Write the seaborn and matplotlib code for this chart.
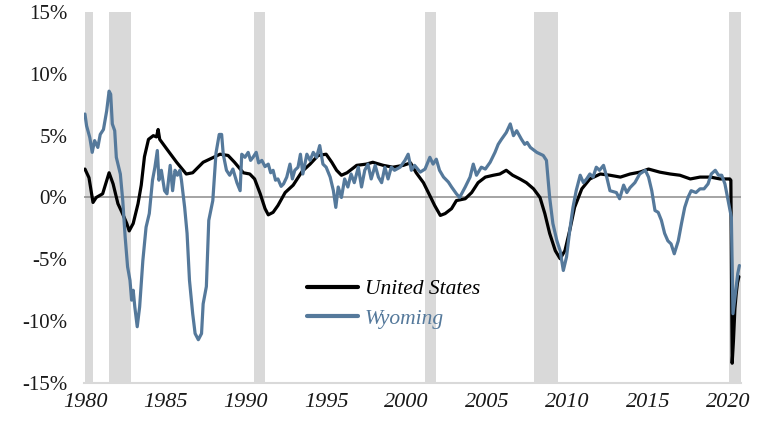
import matplotlib
matplotlib.use("Agg")
import matplotlib.pyplot as plt
from matplotlib.font_manager import FontProperties
import seaborn as sns
import pandas as pd

# ---------------- data ----------------
us_year = [1980.0, 1980.25, 1980.5, 1980.7, 1981.1, 1981.5, 1981.75, 1982.05, 1982.3, 1982.6,
           1982.75, 1983.0, 1983.3, 1983.5, 1983.7, 1983.95, 1984.25, 1984.45, 1984.55, 1984.65,
           1985.1, 1985.7, 1986.3, 1986.7, 1987.35, 1988.0, 1988.4, 1988.9, 1989.3, 1989.85,
           1990.25, 1990.55, 1990.9, 1991.2, 1991.4, 1991.7, 1992.0, 1992.45, 1992.95, 1993.5,
           1994.0, 1994.5, 1995.0, 1995.35, 1995.65, 1995.95, 1996.3, 1996.9, 1997.5, 1997.9,
           1998.55, 1999.15, 1999.8, 2000.25, 2000.6, 2001.05, 2001.45, 2001.75, 2002.1, 2002.4,
           2002.8, 2003.1, 2003.65, 2004.05, 2004.45, 2004.9, 2005.4, 2005.8, 2006.2, 2006.6,
           2007.05, 2007.45, 2007.9, 2008.3, 2008.6, 2008.9, 2009.25, 2009.55, 2009.85, 2010.15,
           2010.45, 2010.9, 2011.4, 2012.05, 2012.65, 2013.3, 2013.9, 2014.5, 2015.05, 2015.75,
           2016.4, 2017.0, 2017.65, 2018.25, 2018.9, 2019.5, 2020.1, 2020.17, 2020.25, 2020.33,
           2020.42, 2020.5, 2020.58, 2020.67]
us_val = [2.3, 1.6, -0.4, 0.0, 0.3, 2.0, 1.1, -0.5, -1.2, -2.1,
          -2.7, -2.1, -0.5, 1.0, 3.3, 4.7, 5.0, 4.9, 5.5, 4.7,
          3.9, 2.85, 1.9, 2.0, 2.85, 3.25, 3.5, 3.4, 2.85, 2.0,
          1.9, 1.5, 0.3, -0.9, -1.4, -1.2, -0.65, 0.4, 1.0, 2.1,
          2.7, 3.4, 3.5, 2.85, 2.2, 1.8, 2.0, 2.6, 2.7, 2.85,
          2.6, 2.45, 2.6, 2.8, 2.0, 1.2, 0.15, -0.65, -1.45, -1.3,
          -0.9, -0.25, -0.1, 0.4, 1.2, 1.65, 1.8, 1.9, 2.2, 1.8,
          1.5, 1.2, 0.7, 0.0, -1.3, -2.9, -4.3, -4.95, -4.3, -2.65,
          -0.8, 0.7, 1.5, 1.9, 1.8, 1.65, 1.9, 2.05, 2.3, 2.05,
          1.9, 1.8, 1.5, 1.65, 1.65, 1.5, 1.5, 1.4, -13.4, -11.6,
          -9.0, -7.8, -6.9, -6.4]

wy_year = [1980.0, 1980.1, 1980.3, 1980.45, 1980.6, 1980.8, 1980.95, 1981.15, 1981.35, 1981.5,
           1981.6, 1981.7, 1981.85, 1981.95, 1982.2, 1982.35, 1982.5, 1982.65, 1982.8, 1982.9,
           1983.0, 1983.1, 1983.25, 1983.4, 1983.6, 1983.8, 1984.0, 1984.2, 1984.35, 1984.5,
           1984.6, 1984.75, 1984.95, 1985.1, 1985.3, 1985.45, 1985.6, 1985.75, 1985.9, 1986.0,
           1986.2, 1986.35, 1986.5, 1986.7, 1986.85, 1987.05, 1987.25, 1987.35, 1987.55, 1987.7,
           1987.95, 1988.15, 1988.35, 1988.5, 1988.6, 1988.8, 1989.0, 1989.2, 1989.45, 1989.65,
           1989.75, 1989.95, 1990.15, 1990.3, 1990.45, 1990.65, 1990.8, 1991.0, 1991.2, 1991.4,
           1991.55, 1991.7, 1991.85, 1992.0, 1992.2, 1992.35, 1992.55, 1992.75, 1992.9, 1993.05,
           1993.25, 1993.4, 1993.55, 1993.8, 1994.0, 1994.2, 1994.4, 1994.6, 1994.8, 1995.0,
           1995.25, 1995.45, 1995.6, 1995.75, 1995.95, 1996.15, 1996.35, 1996.55, 1996.75, 1997.0,
           1997.2, 1997.4, 1997.6, 1997.8, 1998.05, 1998.25, 1998.45, 1998.65, 1998.85, 1999.05,
           1999.25, 1999.6, 1999.9, 2000.1, 2000.3, 2000.5, 2000.85, 2001.15, 2001.45, 2001.65,
           2001.85, 2002.05, 2002.3, 2002.6, 2002.8, 2003.1, 2003.3, 2003.65, 2003.95, 2004.15,
           2004.35, 2004.65, 2004.9, 2005.2, 2005.5, 2005.7, 2005.9, 2006.2, 2006.45, 2006.65,
           2006.85, 2007.15, 2007.35, 2007.5, 2007.7, 2008.1, 2008.5, 2008.7, 2008.9, 2009.1,
           2009.35, 2009.55, 2009.75, 2009.95, 2010.15, 2010.35, 2010.55, 2010.8, 2011.0, 2011.2,
           2011.4, 2011.6, 2011.8, 2012.0, 2012.25, 2012.45, 2012.65, 2013.05, 2013.25, 2013.5,
           2013.7, 2013.9, 2014.2, 2014.5, 2014.85, 2015.05, 2015.25, 2015.45, 2015.65, 2015.85,
           2016.05, 2016.25, 2016.45, 2016.65, 2016.9, 2017.1, 2017.3, 2017.5, 2017.7, 2018.0,
           2018.25, 2018.5, 2018.75, 2018.95, 2019.2, 2019.4, 2019.6, 2019.8, 2020.0, 2020.2,
           2020.3, 2020.45, 2020.6, 2020.7]
wy_val = [6.75, 5.8, 4.85, 3.65, 4.6, 4.05, 5.1, 5.5, 7.0, 8.6,
          8.35, 5.95, 5.4, 3.25, 1.9, -0.25, -3.2, -5.6, -6.7, -8.3,
          -7.5, -8.85, -10.45, -8.85, -5.1, -2.4, -1.3, 1.4, 2.45, 3.8,
          1.4, 2.2, 0.55, 0.3, 2.6, 0.55, 2.2, 1.8, 2.2, 1.4,
          -0.8, -2.9, -6.7, -9.4, -11.0, -11.5, -11.0, -8.6, -7.2, -1.85,
          -0.25, 3.6, 5.1, 5.1, 3.5, 2.2, 1.8, 2.3, 1.2, 0.55,
          3.5, 3.25, 3.65, 3.0, 3.25, 3.65, 2.8, 3.0, 2.5, 2.7,
          2.0, 2.2, 1.4, 1.5, 0.9, 1.1, 1.65, 2.7, 1.5, 2.2,
          2.45, 3.5, 1.9, 3.5, 3.0, 3.65, 3.25, 4.2, 2.7, 2.45,
          1.65, 0.55, -0.8, 0.85, 0.0, 1.5, 0.85, 1.9, 1.2, 2.45,
          0.85, 2.2, 2.7, 1.5, 2.6, 1.65, 1.2, 2.45, 1.5, 2.45,
          2.2, 2.45, 3.0, 3.5, 2.2, 2.6, 2.05, 2.3, 3.25, 2.7,
          3.1, 2.2, 1.65, 1.25, 0.85, 0.3, 0.0, 0.85, 1.65, 2.7,
          1.8, 2.45, 2.3, 2.85, 3.65, 4.3, 4.7, 5.25, 5.95, 5.0,
          5.4, 4.7, 4.3, 4.45, 4.05, 3.65, 3.4, 3.0, 0.0, -2.1,
          -3.5, -4.3, -5.9, -4.8, -2.65, -0.8, 0.55, 1.8, 1.2, 1.5,
          1.9, 1.65, 2.45, 2.2, 2.6, 1.65, 0.55, 0.4, -0.1, 1.0,
          0.4, 0.8, 1.2, 1.9, 2.2, 1.65, 0.55, -1.05, -1.2, -1.85,
          -2.9, -3.5, -3.75, -4.55, -3.5, -2.1, -0.8, 0.0, 0.55, 0.4,
          0.7, 0.7, 1.1, 1.9, 2.2, 1.8, 1.8, 1.1, -0.25, -1.6,
          -9.4, -7.75, -6.15, -5.5]

rec_start = [1980.0, 1981.5, 1990.5, 2001.17, 2007.92, 2020.08]
rec_end = [1980.5, 1982.87, 1991.17, 2001.83, 2009.42, 2020.8]

y_ticks = [-15, -10, -5, 0, 5, 10, 15]
x_ticks = [1980, 1985, 1990, 1995, 2000, 2005, 2010, 2015, 2020]
series_names = ["United States", "Wyoming"]

# ---------------- plot ----------------
sns.set_theme(style="white")
plt.rcParams["font.family"] = ["Liberation Serif", "DejaVu Serif"]

US_COLOR = "#000000"
WY_COLOR = "#55799b"
SHADE = "#d9d9d9"

fig = plt.figure(figsize=(7.62, 4.23), dpi=100)
ax = fig.add_axes([84 / 762, 1 - 383 / 423, (741 - 84) / 762, (383 - 12) / 423])

for s, e in zip(rec_start, rec_end):
    ax.axvspan(max(s, 1979.94), e, color=SHADE, lw=0, zorder=0)

ax.axhline(0, color="#8c8c8c", lw=1.1, zorder=1)

us_df = pd.DataFrame({"year": us_year, "value": us_val})
wy_df = pd.DataFrame({"year": wy_year, "value": wy_val})
sns.lineplot(data=us_df, x="year", y="value", ax=ax, color=US_COLOR, lw=2.3,
             label=series_names[0], sort=False, estimator=None, zorder=3)
sns.lineplot(data=wy_df, x="year", y="value", ax=ax, color=WY_COLOR, lw=2.3,
             label=series_names[1], sort=False, estimator=None, zorder=4)

ax.set_xlim(1979.94, 2020.8)
ax.set_ylim(-15, 15)
ax.tick_params(axis="both", length=0)
ax.tick_params(axis="y", pad=12)
ax.tick_params(axis="x", pad=7)
ax.set_xticks(x_ticks)
ax.set_yticks(y_ticks)
xfp = FontProperties(family="Liberation Serif", style="italic", size=16)
yfp = FontProperties(family="Liberation Serif", style="normal", size=15)
ax.set_xticklabels([str(t) for t in x_ticks], fontproperties=xfp, color="#1a1a1a")
ax.set_yticklabels([f"{t}%" for t in y_ticks], fontproperties=yfp, color="#1a1a1a")

ax.set_xlabel("")
ax.set_ylabel("")
ax.grid(False)
for side in ["top", "right", "left"]:
    ax.spines[side].set_visible(False)
ax.spines["bottom"].set_color(SHADE)
ax.spines["bottom"].set_linewidth(1.5)

leg = ax.legend(loc="center left", bbox_to_anchor=(0.339, 0.213), frameon=False,
                prop={"family": ["Liberation Serif"], "style": "italic", "size": 15.5},
                handlelength=2.4, handletextpad=0.3, labelspacing=0.45,
                borderaxespad=0, borderpad=0)
for txt, col in zip(leg.get_texts(), [US_COLOR, WY_COLOR]):
    txt.set_color(col)
for line in leg.get_lines():
    line.set_linewidth(3)

fig.savefig("out.png", dpi=100)
